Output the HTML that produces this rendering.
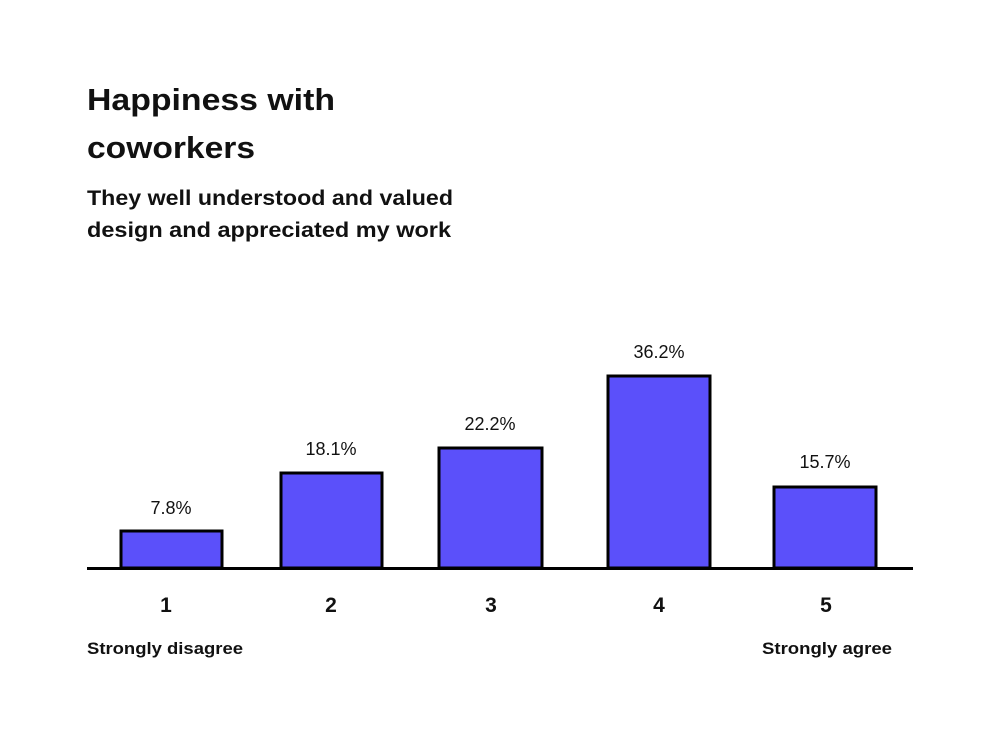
<!DOCTYPE html>
<html><head><style>
body{margin:0;background:#fff;}
svg text{font-family:"Liberation Sans",sans-serif;fill:#111;}
</style></head><body>
<svg width="1000" height="740" viewBox="0 0 1000 740" xmlns="http://www.w3.org/2000/svg">
<rect width="1000" height="740" fill="#fff"/>
<text x="87" y="110" font-size="31" font-weight="bold" textLength="248" lengthAdjust="spacingAndGlyphs">Happiness with</text>
<text x="87" y="158" font-size="31" font-weight="bold" textLength="168" lengthAdjust="spacingAndGlyphs">coworkers</text>
<text x="87" y="205" font-size="21" font-weight="bold" textLength="366" lengthAdjust="spacingAndGlyphs">They well understood and valued</text>
<text x="87" y="237" font-size="21" font-weight="bold" textLength="364" lengthAdjust="spacingAndGlyphs">design and appreciated my work</text>
<g fill="#5b50fa" stroke="#000" stroke-width="3">
<rect x="121" y="531" width="101" height="37"/>
<rect x="281" y="473" width="101" height="95"/>
<rect x="439" y="448" width="103" height="120"/>
<rect x="608" y="376" width="102" height="192"/>
<rect x="774" y="487" width="102" height="81"/>
</g>
<line x1="87" y1="568.5" x2="913" y2="568.5" stroke="#000" stroke-width="3"/>
<g font-size="18" text-anchor="middle">
<text x="171" y="514">7.8%</text>
<text x="331" y="455">18.1%</text>
<text x="490" y="430">22.2%</text>
<text x="659" y="358">36.2%</text>
<text x="825" y="468">15.7%</text>
</g>
<g font-size="21" text-anchor="middle" font-weight="bold">
<text x="166" y="612">1</text>
<text x="331" y="612">2</text>
<text x="491" y="612">3</text>
<text x="659" y="612">4</text>
<text x="826" y="612">5</text>
</g>
<text x="87" y="654" font-size="17" font-weight="bold" textLength="156" lengthAdjust="spacingAndGlyphs">Strongly disagree</text>
<text x="762" y="654" font-size="17" font-weight="bold" textLength="130" lengthAdjust="spacingAndGlyphs">Strongly agree</text>
</svg>
</body></html>
